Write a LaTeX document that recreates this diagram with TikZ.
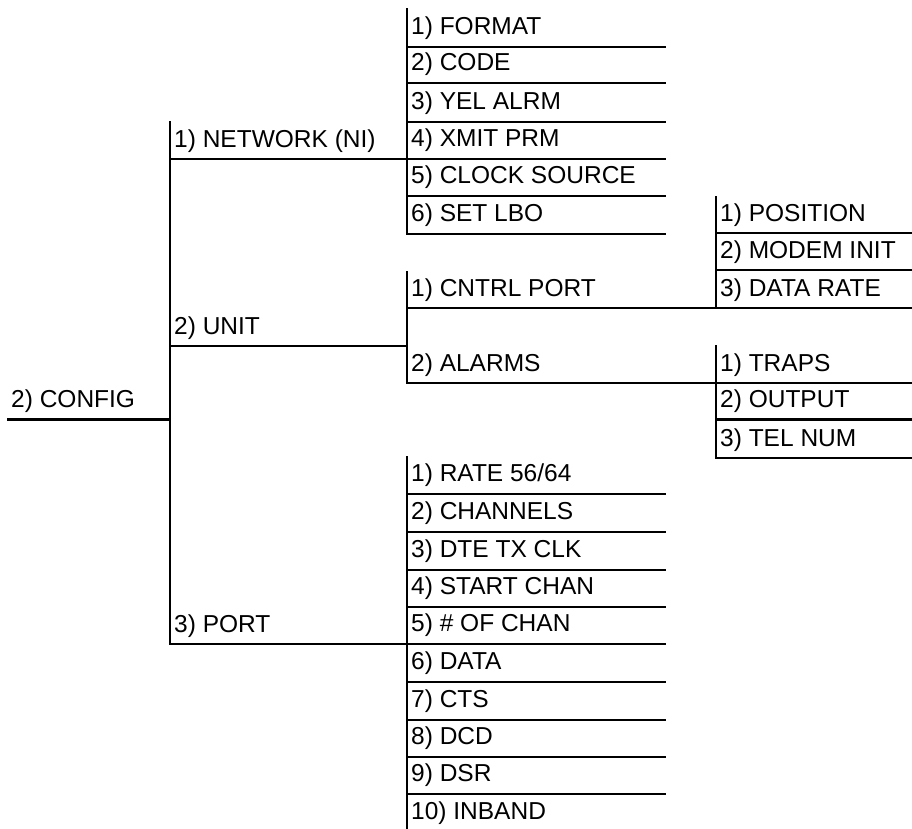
\documentclass[tikz,border=0pt]{standalone}
\usepackage{fontspec}
\setmainfont{Liberation Sans}
\begin{document}
\begin{tikzpicture}[x=1pt,y=-1pt,
  ln/.style={line width=2.7pt,line cap=rect},
  lbl/.style={anchor=base west,inner sep=0pt,font=\fontsize{24.5}{28}\selectfont}]
\useasboundingbox (0,0) rectangle (912,828);

% root
\node[lbl] (config) at (11,407) {2) CONFIG};
\coordinate (cfgL) at (8,419.5);
\coordinate (cfgR) at (170,419.5);
\draw[ln] (cfgL) -- (cfgR);

% column 1
\coordinate (c1top) at (170,122);
\coordinate (c1bot) at (170,644);
\draw[ln] (c1top) -- (c1bot);
\node[lbl] (network) at (174,147) {1) NETWORK (NI)};
\node[lbl] (unit) at (174,334) {2) UNIT};
\node[lbl] (port) at (174,632) {3) PORT};
\coordinate (netA) at (170,159); \coordinate (netB) at (665,159);
\coordinate (unitA) at (170,346); \coordinate (unitB) at (407,346);
\coordinate (portA) at (170,644); \coordinate (portB) at (665,644);
\draw[ln] (netA) -- (netB);
\draw[ln] (unitA) -- (unitB);
\draw[ln] (portA) -- (portB);

% network submenu
\coordinate (nettop) at (407,9); \coordinate (netbot) at (407,234);
\draw[ln] (nettop) -- (netbot);
\foreach \yy/\txt [count=\i] in {47/{1) FORMAT},83/{2) CODE},122/{3) YEL ALRM},159/{4) XMIT PRM},196/{5) CLOCK SOURCE},234/{6) SET LBO}} {
  \node[lbl] (net\i) at (411,\yy-12.5) {\txt};
  \coordinate (netL\i) at (407,\yy);
  \coordinate (netR\i) at (665,\yy);
  \draw[ln] (netL\i) -- (netR\i);
}

% unit submenu
\coordinate (unittop) at (407,272); \coordinate (unitbot) at (407,383);
\draw[ln] (unittop) -- (unitbot);
\node[lbl] (cntrl) at (411,296) {1) CNTRL PORT};
\node[lbl] (alarms) at (411,371) {2) ALARMS};
\coordinate (cntrlA) at (407,308); \coordinate (cntrlB) at (912,308);
\coordinate (alarmA) at (407,383); \coordinate (alarmB) at (912,383);
\draw[ln] (cntrlA) -- (cntrlB);
\draw[ln] (alarmA) -- (alarmB);

% cntrl port submenu
\coordinate (cptop) at (716,197); \coordinate (cpbot) at (716,308);
\draw[ln] (cptop) -- (cpbot);
\node[lbl] (pos) at (720,221) {1) POSITION};
\node[lbl] (modem) at (720,258) {2) MODEM INIT};
\node[lbl] (drate) at (720,296) {3) DATA RATE};
\coordinate (posA) at (716,233); \coordinate (posB) at (912,233);
\coordinate (modA) at (716,270); \coordinate (modB) at (912,270);
\draw[ln] (posA) -- (posB);
\draw[ln] (modA) -- (modB);

% alarms submenu
\coordinate (altop) at (716,346); \coordinate (albot) at (716,458);
\draw[ln] (altop) -- (albot);
\node[lbl] (traps) at (720,371) {1) TRAPS};
\node[lbl] (output) at (720,407) {2) OUTPUT};
\node[lbl] (telnum) at (720,446) {3) TEL NUM};
\coordinate (outA) at (716,419.5); \coordinate (outB) at (912,419.5);
\coordinate (telA) at (716,458); \coordinate (telB) at (912,458);
\draw[ln] (outA) -- (outB);
\draw[ln] (telA) -- (telB);

% port submenu
\coordinate (ptop) at (407,457); \coordinate (pbot) at (407,830);
\draw[ln] (ptop) -- (pbot);
\foreach \yy/\txt [count=\i] in {494/{1) RATE 56/64},532/{2) CHANNELS},570/{3) DTE TX CLK},607/{4) START CHAN},644/{5) \# OF CHAN},682/{6) DATA},720/{7) CTS},757/{8) DCD},794/{9) DSR}} {
  \node[lbl] (pt\i) at (411,\yy-12.5) {\txt};
  \coordinate (ptL\i) at (407,\yy);
  \coordinate (ptR\i) at (665,\yy);
  \draw[ln] (ptL\i) -- (ptR\i);
}
\node[lbl] (pt10) at (411,819.5) {10) INBAND};
\end{tikzpicture}
\end{document}
